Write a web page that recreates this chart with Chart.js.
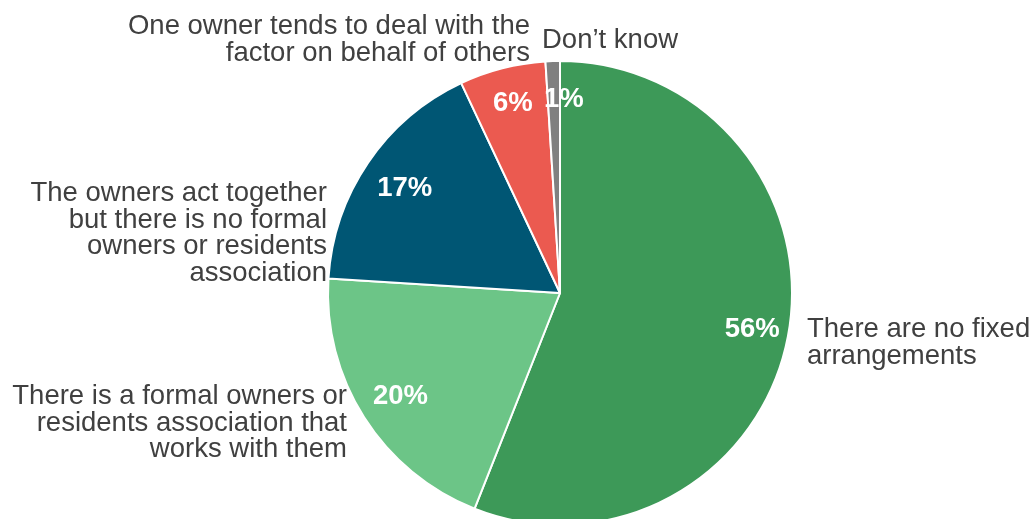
<!DOCTYPE html>
<html>
<head>
<meta charset="utf-8">
<script src="https://cdn.jsdelivr.net/npm/chart.js@4/dist/chart.umd.min.js"></script>
<style>
    html, body { margin: 0; padding: 0; background: #fff; overflow: hidden; }
    #wrap { width: 1034px; height: 519px; overflow: hidden; position: relative; }
    #box { width: 1034px; height: 586px; position: absolute; left: 0; top: 0; }
</style>
</head>
<body>
<div id="wrap"><div id="box"><canvas id="pie"></canvas></div></div>
<script>
// Survey answers, clockwise from 12 o'clock
const categories = [
    ['There are no fixed', 'arrangements'],
    ['There is a formal owners or', 'residents association that', 'works with them'],
    ['The owners act together', 'but there is no formal', 'owners or residents', 'association'],
    ['One owner tends to deal with the', 'factor on behalf of others'],
    ['Don\u2019t know']
];
const shares = [56, 20, 17, 6, 1];
const sliceColors = ['#3d9958', '#6cc587', '#005674', '#eb5a50', '#808080'];

// where each category caption sits (x, first baseline, alignment)
const captionLayout = [
    { x: 807, y: 337, align: 'left' },
    { x: 347, y: 404, align: 'right' },
    { x: 327, y: 201, align: 'right' },
    { x: 530, y: 34,  align: 'right' },
    { x: 542, y: 48,  align: 'left' }
];
const pctNudge = [[2, 0], [4, 0], [5, 4], [1, -2], [10, 0]];

const FONT = '"Liberation Sans", Arial, sans-serif';
const FONT_PX = 27.5;
const LINE_H = 26.5;

const labelPlugin = {
    id: 'sliceLabels',
    afterDatasetsDraw(chart) {
        const ctx = chart.ctx;
        const arcs = chart.getDatasetMeta(0).data;
        ctx.save();

        // percentages inside each slice
        ctx.fillStyle = '#ffffff';
        ctx.font = `bold ${FONT_PX}px ${FONT}`;
        ctx.textAlign = 'center';
        ctx.textBaseline = 'middle';
        arcs.forEach((arc, i) => {
            const { x, y, startAngle, endAngle, outerRadius } = arc.getProps(['x', 'y', 'startAngle', 'endAngle', 'outerRadius'], true);
            const mid = (startAngle + endAngle) / 2;
            const r = outerRadius * 0.835;
            ctx.fillText(shares[i] + '%', x + Math.cos(mid) * r + pctNudge[i][0], y + Math.sin(mid) * r + pctNudge[i][1]);
        });

        // category captions outside the pie
        ctx.fillStyle = '#404040';
        ctx.font = `${FONT_PX}px ${FONT}`;
        ctx.textBaseline = 'alphabetic';
        categories.forEach((lines, i) => {
            const pos = captionLayout[i];
            ctx.textAlign = pos.align;
            lines.forEach((line, j) => ctx.fillText(line, pos.x, pos.y + j * LINE_H));
        });

        ctx.restore();
    }
};

new Chart(document.getElementById('pie'), {
    type: 'pie',
    data: {
        labels: categories.map(l => l.join(' ')),
        datasets: [{
            data: shares,
            backgroundColor: sliceColors,
            borderColor: '#ffffff',
            borderWidth: 2,
            radius: 232,
            clip: false
        }]
    },
    options: {
        responsive: true,
        maintainAspectRatio: false,
        animation: false,
        layout: { padding: { left: 86, right: 0, top: 0, bottom: 0 } },
        plugins: {
            legend: { display: false },
            tooltip: { enabled: false }
        }
    },
    plugins: [labelPlugin]
});
</script>
</body>
</html>
